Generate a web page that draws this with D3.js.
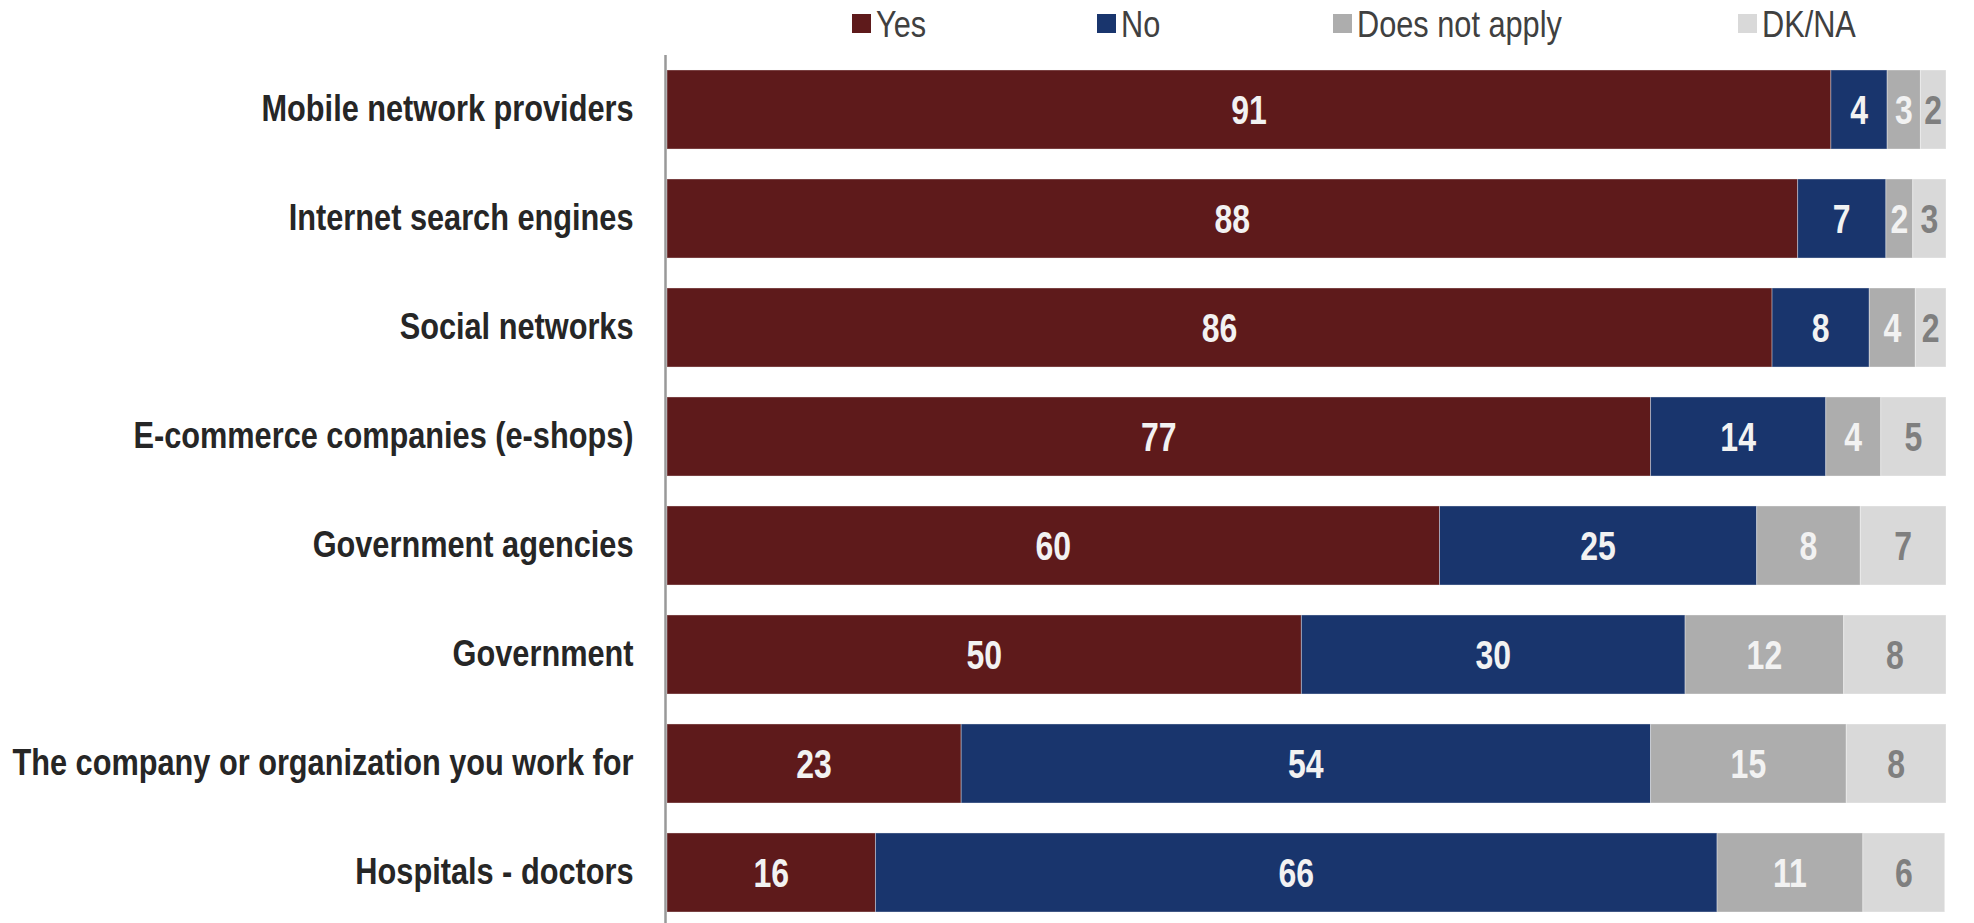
<!DOCTYPE html>
<html>
<head>
<meta charset="utf-8">
<script src="https://cdn.jsdelivr.net/npm/d3@7"></script>
<style>
  html, body { margin: 0; padding: 0; background: #fff; }
  svg { display: block; }
  text { font-family: "Liberation Sans Narrow", "Arial Narrow", "Liberation Sans", Arial, sans-serif; }
</style>
</head>
<body>
<svg id="chart" width="1974" height="923"></svg>
<script>
const categories = [
  "Mobile network providers",
  "Internet search engines",
  "Social networks",
  "E-commerce companies (e-shops)",
  "Government agencies",
  "Government",
  "The company or organization you work for",
  "Hospitals - doctors"
];
const seriesNames = ["Yes", "No", "Does not apply", "DK/NA"];
const yesValues   = [91.0, 88.4, 86.4, 76.9, 60.4, 49.6, 23.0, 16.3];
const noValues    = [4.4, 6.9, 7.6, 13.7, 24.8, 30.0, 53.9, 65.8];
const dnaValues   = [2.6, 2.1, 3.6, 4.3, 8.1, 12.4, 15.3, 11.4];
const dkValues    = [2.0, 2.6, 2.4, 5.1, 6.7, 8.0, 7.8, 6.4];

const colors = ["#5e1a1b", "#19356d", "#adadad", "#d9d9d9"];
const labelColors = ["#f2f2f2", "#f2f2f2", "#f2f2f2", "#7f7f7f"];

// condense text horizontally (narrow font emulation)
function condense(sel, factor) {
  sel.each(function () {
    const len = this.getComputedTextLength();
    d3.select(this).attr("textLength", len * factor).attr("lengthAdjust", "spacingAndGlyphs");
  });
}

const rows = categories.map((c, i) => ({
  cat: c, Yes: yesValues[i], No: noValues[i], "Does not apply": dnaValues[i], "DK/NA": dkValues[i]
}));
const stacked = d3.stack().keys(seriesNames)(rows);

const svg = d3.select("#chart");
const x = d3.scaleLinear().domain([0, 100]).range([667, 1946]);
const y = d3.scaleBand().domain(categories).range([55, 55 + 8 * 109])
  .paddingInner(0.275).paddingOuter(0.1376);

// bars
stacked.forEach((s, si) => {
  const g = svg.append("g");
  g.selectAll("rect").data(s).join("rect")
    .attr("x", d => x(d[0]))
    .attr("y", d => y(d.data.cat))
    .attr("width", d => x(d[1]) - x(d[0]))
    .attr("height", y.bandwidth())
    .attr("fill", colors[si])
    .attr("stroke", "#ffffff")
    .attr("stroke-opacity", 0.35)
    .attr("stroke-width", 1);
  const t = g.selectAll("text").data(s).join("text")
    .attr("x", d => x((d[0] + d[1]) / 2))
    .attr("y", d => y(d.data.cat) + y.bandwidth() / 2)
    .attr("dy", "0.36em")
    .attr("text-anchor", "middle")
    .attr("font-size", 40)
    .attr("font-weight", "bold")
    .attr("fill", labelColors[si])
    .text(d => Math.round(d[1] - d[0]));
  condense(t, 0.8);
});

// category axis
const axis = d3.axisLeft(y).tickSize(0).tickPadding(32);
const ag = svg.append("g").attr("transform", "translate(665.5,0)").call(axis);
ag.select(".domain").remove();
ag.selectAll("text")
  .attr("font-size", 37)
  .attr("font-weight", "bold")
  .attr("fill", "#262626")
  .style("font-family", '"Liberation Sans Narrow", "Arial Narrow", "Liberation Sans", Arial, sans-serif');
condense(ag.selectAll("text"), 0.83);
svg.append("line")
  .attr("x1", 665.5).attr("x2", 665.5)
  .attr("y1", 55).attr("y2", 923)
  .attr("stroke", "#999999").attr("stroke-width", 2.5);

// legend
const legendX = [852, 1097, 1333, 1738];
const lg = svg.append("g");
seriesNames.forEach((n, i) => {
  lg.append("rect").attr("x", legendX[i]).attr("y", 14).attr("width", 19).attr("height", 19)
    .attr("fill", colors[i]);
  const t = lg.append("text").attr("x", legendX[i] + 24).attr("y", 24).attr("dy", "0.36em")
    .attr("font-size", 37).attr("fill", "#404040").text(n);
  condense(t, 0.83);
});
</script>
</body>
</html>
